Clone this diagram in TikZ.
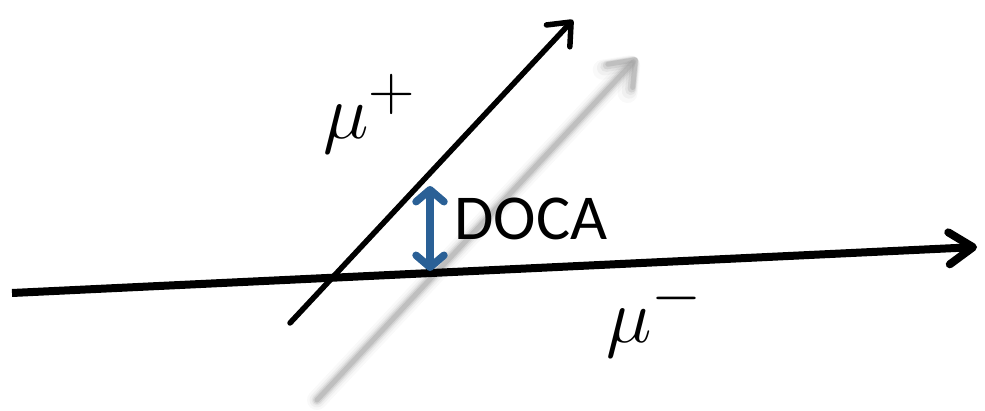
\documentclass[tikz,border=0pt]{standalone}
\usepackage{fontspec}
\setsansfont{Carlito}
\usepackage{xcolor}
\usetikzlibrary{arrows.meta}

\definecolor{docablue}{RGB}{42,96,150}

\begin{document}
\begin{tikzpicture}[x=1pt, y=-1pt]
  \useasboundingbox (0,0) rectangle (985,411);

  % Track end points
  \coordinate (MinusStart) at (12,293);
  \coordinate (MinusEnd) at (977,247);
  \coordinate (PlusStart) at (290,323);
  \coordinate (PlusEnd) at (573,20);
  \coordinate (GhostStart) at (317,400);
  \coordinate (GhostEnd) at (637,58);
  \coordinate (DocaTop) at (430,186);
  \coordinate (DocaBottom) at (430,271);

  % Blurred copy of the mu+ track
  \foreach \w/\o in {20/0.06, 15/0.09, 11/0.14, 8/0.22, 5/0.35}
    \draw[line width=\w pt, gray!80, opacity=\o, line cap=round,
          -{Straight Barb[length=22pt, width=34pt, round]}]
      (GhostStart) -- (GhostEnd);

  % mu+ track
  \draw[line width=5.5pt, line cap=round,
        -{Straight Barb[length=19pt, width=32pt, round]}]
    (PlusStart) -- (PlusEnd);
  \node (plus) at (370,114) {\Huge\scalebox{3.1}{$\mu^+$}};

  % mu- track
  \draw[line width=8pt,
        -{Straight Barb[length=24pt, width=32pt, round]}]
    (MinusStart) -- (MinusEnd);
  \node (minus) at (655,317) {\Huge\scalebox{3.1}{$\mu^-$}};

  % Distance of closest approach
  \draw[line width=7.5pt, docablue,
        {Straight Barb[length=12pt, width=28pt, round]}-{Straight Barb[length=12pt, width=28pt, round]}]
    (DocaTop) -- (DocaBottom);
  \node[font=\sffamily\fontsize{64}{70}\selectfont, anchor=west] (doca) at (451,219) {DOCA};

\end{tikzpicture}
\end{document}
